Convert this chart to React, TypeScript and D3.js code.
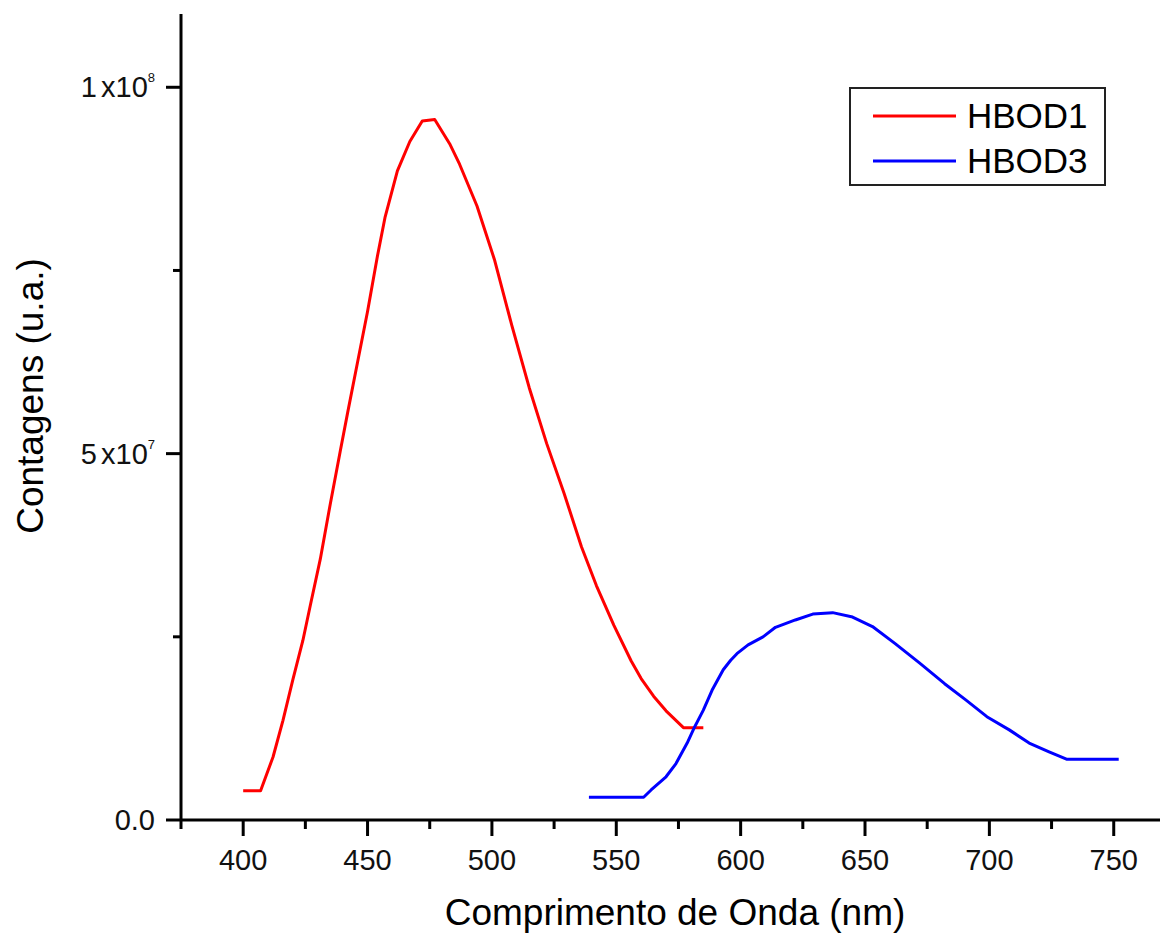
import { useEffect, useRef } from 'react'
import * as d3 from 'd3'

// emission spectra, counts in units of 1e6
const UNIT = 1e6

const hbod1Wavelength = [400, 407, 412, 416, 420, 424, 427, 431, 435, 439, 442, 446, 450, 454, 457, 462, 467, 472, 477, 483, 487, 494, 501, 508, 515, 522, 529, 536, 542, 549, 556, 560, 565, 570, 577, 585]
const hbod1Counts = [4.0, 4.0, 8.6, 13.6, 19.2, 24.5, 29.3, 35.6, 43.1, 50.3, 55.6, 62.5, 69.4, 77.0, 82.2, 88.6, 92.6, 95.4, 95.6, 92.3, 89.5, 83.8, 76.5, 67.5, 59.0, 51.4, 44.6, 37.3, 32.0, 26.6, 21.7, 19.3, 16.9, 14.9, 12.6, 12.6]

const hbod3Wavelength = [539, 561, 564, 570, 574, 578.5, 581.5, 585, 588.5, 593, 596, 598.5, 603, 609, 614, 622, 629, 637, 645, 653, 662, 672, 682, 690.5, 699, 708, 716, 724, 731, 752]
const hbod3Counts = [3.1, 3.1, 4.1, 5.9, 7.7, 10.5, 12.7, 15.0, 17.7, 20.5, 21.8, 22.7, 23.9, 25.0, 26.3, 27.3, 28.1, 28.3, 27.7, 26.4, 24.1, 21.4, 18.6, 16.4, 14.1, 12.3, 10.5, 9.3, 8.3, 8.3]

const xMajorTicks = [400, 450, 500, 550, 600, 650, 700, 750]
const xMinorTicks = [375, 425, 475, 525, 575, 625, 675, 725]
const yMajorTicks = [0, 5e7, 1e8]
const yMinorTicks = [2.5e7, 7.5e7]
const yTickMantissa = ['0.0', '5', '1']
const yTickExponent = ['', '7', '8']

const seriesNames = ['HBOD1', 'HBOD3']
const seriesColors = ['#ff0000', '#0000ff']

const FONT = '"Liberation Sans", Arial, sans-serif'

function App() {
  const svgRef = useRef<SVGSVGElement>(null)

  useEffect(() => {
    const width = 1163
    const height = 935

    const svg = d3.select(svgRef.current)
    svg.selectAll('*').remove()
    svg.attr('width', width).attr('height', height)

    svg.append('rect').attr('width', width).attr('height', height).attr('fill', '#fff')

    const x = d3.scaleLinear().domain([375, 768.6]).range([181, 1160])
    const y = d3.scaleLinear().domain([0, 1.1e8]).range([820, 14])

    // curves
    const line = d3.line<[number, number]>()
      .x(d => x(d[0]))
      .y(d => y(d[1] * UNIT))

    const series = [
      d3.zip(hbod1Wavelength, hbod1Counts) as [number, number][],
      d3.zip(hbod3Wavelength, hbod3Counts) as [number, number][],
    ]
    series.forEach((pts, i) => {
      svg.append('path')
        .attr('d', line(pts))
        .attr('fill', 'none')
        .attr('stroke', seriesColors[i])
        .attr('stroke-width', 3)
        .attr('stroke-linejoin', 'round')
    })

    // x axis
    const xAxis = svg.append('g').attr('transform', `translate(0, ${y(0)})`)
    xAxis.append('line')
      .attr('x1', x.range()[0] - 1).attr('x2', x.range()[1])
      .attr('stroke', '#000').attr('stroke-width', 3)
    xMajorTicks.forEach(t => {
      xAxis.append('line').attr('x1', x(t)).attr('x2', x(t)).attr('y1', 0).attr('y2', 16)
        .attr('stroke', '#000').attr('stroke-width', 3)
      xAxis.append('text').attr('x', x(t)).attr('y', 50)
        .attr('text-anchor', 'middle').attr('font-family', FONT).attr('font-size', 29)
        .attr('fill', '#111').text(t)
    })
    xMinorTicks.forEach(t => {
      xAxis.append('line').attr('x1', x(t)).attr('x2', x(t)).attr('y1', 0).attr('y2', 9)
        .attr('stroke', '#000').attr('stroke-width', 3)
    })

    // y axis
    const yAxis = svg.append('g').attr('transform', `translate(${x(375)}, 0)`)
    yAxis.append('line')
      .attr('y1', y.range()[1]).attr('y2', y(0) + 1)
      .attr('stroke', '#000').attr('stroke-width', 3)
    yMajorTicks.forEach((t, i) => {
      yAxis.append('line').attr('x1', 0).attr('x2', -15).attr('y1', y(t)).attr('y2', y(t))
        .attr('stroke', '#000').attr('stroke-width', 3)
      const label = yAxis.append('text')
        .attr('x', -26).attr('y', y(t) + 10)
        .attr('text-anchor', 'end').attr('font-family', FONT).attr('font-size', 29)
        .attr('fill', '#111')
      if (yTickExponent[i]) {
        label.append('tspan').text(yTickMantissa[i])
        label.append('tspan').attr('dx', 4).text('x10')
        label.append('tspan').attr('dy', -15).attr('font-size', 13).text(yTickExponent[i])
      } else {
        label.text(yTickMantissa[i])
      }
    })
    yMinorTicks.forEach(t => {
      yAxis.append('line').attr('x1', 0).attr('x2', -8).attr('y1', y(t)).attr('y2', y(t))
        .attr('stroke', '#000').attr('stroke-width', 3)
    })

    // axis titles
    svg.append('text')
      .attr('x', 675).attr('y', 925)
      .attr('text-anchor', 'middle').attr('font-family', FONT).attr('font-size', 37)
      .attr('fill', '#000').text('Comprimento de Onda (nm)')
    svg.append('text')
      .attr('transform', `translate(43, 396) rotate(-90)`)
      .attr('text-anchor', 'middle').attr('font-family', FONT).attr('font-size', 37)
      .attr('fill', '#000').text('Contagens (u.a.)')

    // legend
    const legend = svg.append('g').attr('transform', 'translate(850, 88)')
    legend.append('rect').attr('width', 255).attr('height', 97)
      .attr('fill', '#fff').attr('stroke', '#222').attr('stroke-width', 2)
    seriesNames.forEach((name, i) => {
      const ly = 28 + i * 45
      legend.append('line').attr('x1', 23).attr('x2', 106).attr('y1', ly).attr('y2', ly)
        .attr('stroke', seriesColors[i]).attr('stroke-width', 3)
      legend.append('text').attr('x', 117).attr('y', ly + 12)
        .attr('font-family', FONT).attr('font-size', 35).attr('fill', '#000').text(name)
    })
  }, [])

  return <svg ref={svgRef} style={{ position: 'absolute', left: 0, top: 0 }} />
}

export default App
